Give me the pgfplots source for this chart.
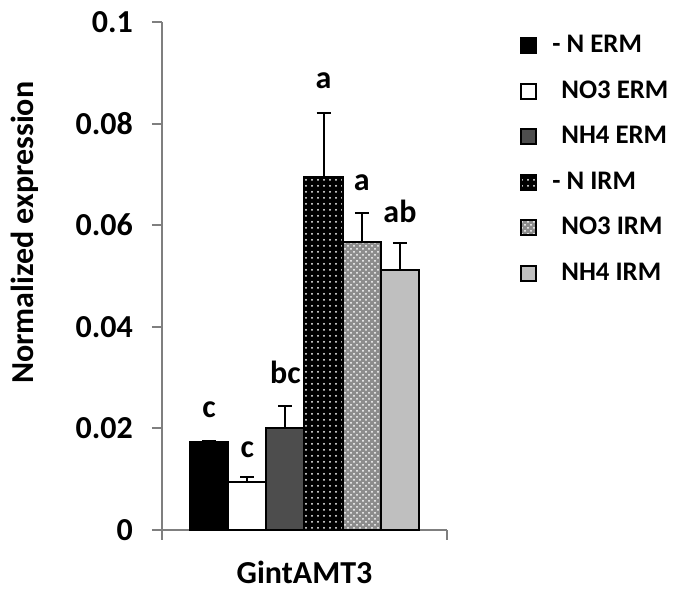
\documentclass[border=0pt]{standalone}
\usepackage{pgfplots}
\pgfplotsset{compat=1.18}
\usetikzlibrary{patterns}
\usepackage{fontspec}
\setmainfont{Carlito}
\definecolor{axgray}{HTML}{7F7F7F}
\definecolor{dgray}{HTML}{4D4D4D}
\definecolor{lgray}{HTML}{BFBFBF}
\begin{document}
\begin{tikzpicture}
\begin{axis}[
  name=ax,
  scale only axis,
  width=142.5pt, height=254pt,
  xmin=-0.5, xmax=0.5,
  ymin=0, ymax=0.1,
  axis x line*=bottom,
  axis y line*=left,
  axis line style={axgray, line width=1pt},
  ytick={0,0.02,0.04,0.06,0.08,0.1},
  yticklabels={0,0.02,0.04,0.06,0.08,0.1},
  xtick={-0.5,0.5},
  xticklabels={},
  tick style={axgray, line width=1pt},
  tick align=outside,
  major tick length=5pt,
  /pgf/number format/assume math mode=true,
  ticklabel style={font=\fontsize{16pt}{18pt}\selectfont\bfseries},
  yticklabel style={xshift=-6pt},
  ylabel={Normalized expression},
  ylabel style={at={(axis description cs:-0.481,0.585)}, anchor=center, font=\fontsize{16pt}{18pt}\selectfont\bfseries},
  xlabel={GintAMT3},
  xlabel style={at={(axis description cs:0.5,-0.0827)}, anchor=center, font=\fontsize{16pt}{18pt}\selectfont\bfseries},
  clip=false,
  legend style={at={(axis description cs:1.256,0.982)}, anchor=north west, draw=none, fill=none, inner sep=0pt,
    font=\fontsize{13.4pt}{15pt}\selectfont\bfseries, row sep=8.5pt,
    /tikz/every even column/.append style={column sep=0pt}},
  legend cell align=left,
  legend image code/.code={\draw[#1, draw=black, line width=1pt] (0pt,-3.75pt) rectangle (7.5pt,3.75pt);\pgfpathmoveto{\pgfpoint{13.5pt}{0pt}}\pgfusepath{}},
  error bars/y dir=plus,
  error bars/y explicit,
  error bars/error mark options={rotate=90, mark size=3.5pt, line width=1pt, black},
  error bars/error bar style={line width=1pt, black},
  every axis plot/.append style={ybar, bar width=19.1pt, bar shift=0pt, draw=black, line width=1pt},
]
\addplot[fill=black] coordinates {(-0.335,0.0173) +- (0,0.0002)};
\addlegendentry{- N ERM}
\addplot[fill=white] coordinates {(-0.201,0.0095) +- (0,0.0009)};
\addlegendentry{\hspace{4.5pt}NO3 ERM}
\addplot[fill=dgray] coordinates {(-0.067,0.0201) +- (0,0.0043)};
\addlegendentry{\hspace{4.5pt}NH4 ERM}
\addplot[preaction={fill=black}, pattern=dots, pattern color=white] coordinates {(0.067,0.0695) +- (0,0.0126)};
\addlegendentry{- N IRM}
\addplot[preaction={fill=black!45}, pattern=crosshatch dots, pattern color=white] coordinates {(0.201,0.0567) +- (0,0.0057)};
\addlegendentry{\hspace{4.5pt}NO3 IRM}
\addplot[fill=lgray] coordinates {(0.335,0.0512) +- (0,0.0053)};
\addlegendentry{\hspace{4.5pt}NH4 IRM}
\begin{scope}[every node/.style={anchor=base, inner sep=0pt, font=\fontsize{16pt}{18pt}\selectfont\bfseries}]
\node at (axis cs:-0.335,0.0222) {c};
\node at (axis cs:-0.201,0.0142) {c};
\node at (axis cs:-0.067,0.0289) {bc};
\node at (axis cs:0.067,0.0870) {a};
\node at (axis cs:0.201,0.0669) {a};
\node at (axis cs:0.335,0.0606) {ab};
\end{scope}
\end{axis}
\pgfresetboundingbox
\useasboundingbox ([xshift=-81pt,yshift=-32pt]ax.south west) rectangle ([xshift=117.5pt,yshift=11pt]ax.north east);
\end{tikzpicture}
\end{document}
